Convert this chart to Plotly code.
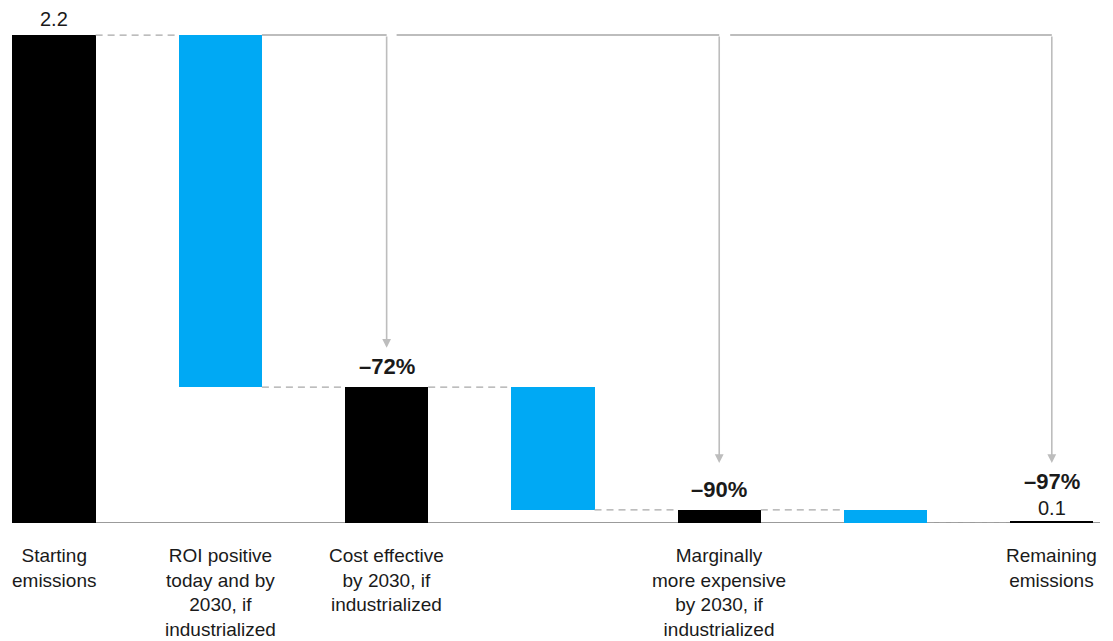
import plotly.graph_objects as go

# ---- data ----
categories = ["Starting emissions", "ROI positive", "Cost effective", "Step 4",
              "Marginally more expensive", "Step 6", "Remaining emissions"]
bar_base = [0.0, 0.613, 0.0, 0.059, 0.0, 0.0, 0.0]
bar_height = [2.2, 1.587, 0.613, 0.554, 0.059, 0.059, 0.006]
bar_kind = ["total", "delta", "total", "delta", "total", "delta", "total"]
tick_positions = [0, 1, 2, 4, 6]
tick_labels = ["Starting<br>emissions",
               "ROI positive<br>today and by<br>2030, if<br>industrialized",
               "Cost effective<br>by 2030, if<br>industrialized",
               "Marginally<br>more expensive<br>by 2030, if<br>industrialized",
               "Remaining<br>emissions"]
pct_positions = [2, 4, 6]
pct_labels = ["\u201372%", "\u201390%", "\u201397%"]
start_label = "2.2"
end_label = "0.1"

BLACK = "#000000"
BLUE = "#00A9F4"
GRAY = "#BDBDBD"
DASH = "#A8A8A8"
FONT = "Liberation Sans"

xs = list(range(len(categories)))
colors = [BLACK if k == "total" else BLUE for k in bar_kind]

fig = go.Figure()
fig.add_trace(go.Bar(x=xs, y=bar_height, base=bar_base, width=0.5,
                     marker=dict(color=colors, line=dict(width=0)),
                     hoverinfo="skip", showlegend=False))

shapes = []
# dashed connectors between consecutive bars
for i in range(len(xs) - 1):
    top_i = bar_base[i] + bar_height[i]
    level = top_i if bar_kind[i] == "total" else bar_base[i]
    shapes.append(dict(type="line", xref="x", yref="y",
                       x0=xs[i] + 0.25, x1=xs[i + 1] - 0.25, y0=level, y1=level,
                       line=dict(color=DASH, width=1.2, dash="7px,5px")))
# baseline
shapes.append(dict(type="line", xref="x", yref="y", x0=-0.25, x1=6.29, y0=0, y1=0,
                   line=dict(color="#7a7a7a", width=1.5), layer="below"))

top = bar_height[0]
# bracket horizontal lines
brackets = [(1.25, 2, 0.79), (2.06, 4, 0.27), (4.066, 6, 0.27)]
annotations = []
for x0, x1, yend in brackets:
    shapes.append(dict(type="line", xref="x", yref="y", x0=x0, x1=x1, y0=top, y1=top,
                       line=dict(color=GRAY, width=2)))
    annotations.append(dict(x=x1, y=yend, ax=x1, ay=top, xref="x", yref="y",
                            axref="x", ayref="y", showarrow=True, arrowhead=2,
                            arrowsize=1.1, arrowwidth=1.6, arrowcolor=GRAY, text=""))

# category labels
for p, t in zip(tick_positions, tick_labels):
    annotations.append(dict(x=p, y=0, xref="x", yref="y", text=t, showarrow=False,
                            yanchor="top", yshift=-20, align="center",
                            font=dict(family=FONT, size=19, color="#1a1a1a")))

# percent labels
for p, t in zip(pct_positions, pct_labels):
    lvl = bar_base[p] + bar_height[p]
    ys = 6 if p != 6 else 26
    annotations.append(dict(x=p, y=lvl, xref="x", yref="y", text="<b>" + t + "</b>",
                            showarrow=False, yanchor="bottom", yshift=ys,
                            font=dict(family=FONT, size=22, color="#1a1a1a")))

annotations.append(dict(x=0, y=bar_height[0], xref="x", yref="y", text=start_label,
                        showarrow=False, yanchor="bottom", yshift=3,
                        font=dict(family=FONT, size=20, color="#1a1a1a")))
annotations.append(dict(x=6, y=bar_base[6] + bar_height[6], xref="x", yref="y",
                        text=end_label, showarrow=False, yanchor="bottom", yshift=1,
                        font=dict(family=FONT, size=20, color="#1a1a1a")))

fig.update_layout(
    width=1113, height=641,
    margin=dict(l=0, r=0, t=0, b=118),
    plot_bgcolor="white", paper_bgcolor="white",
    xaxis=dict(range=[-0.325, 6.368], showgrid=False, zeroline=False,
               showticklabels=False, showline=False, fixedrange=True),
    yaxis=dict(range=[0, 2.358], showgrid=False, zeroline=False,
               showticklabels=False, showline=False, fixedrange=True),
    shapes=shapes, annotations=annotations, bargap=0,
)

fig.write_html("out.html")
